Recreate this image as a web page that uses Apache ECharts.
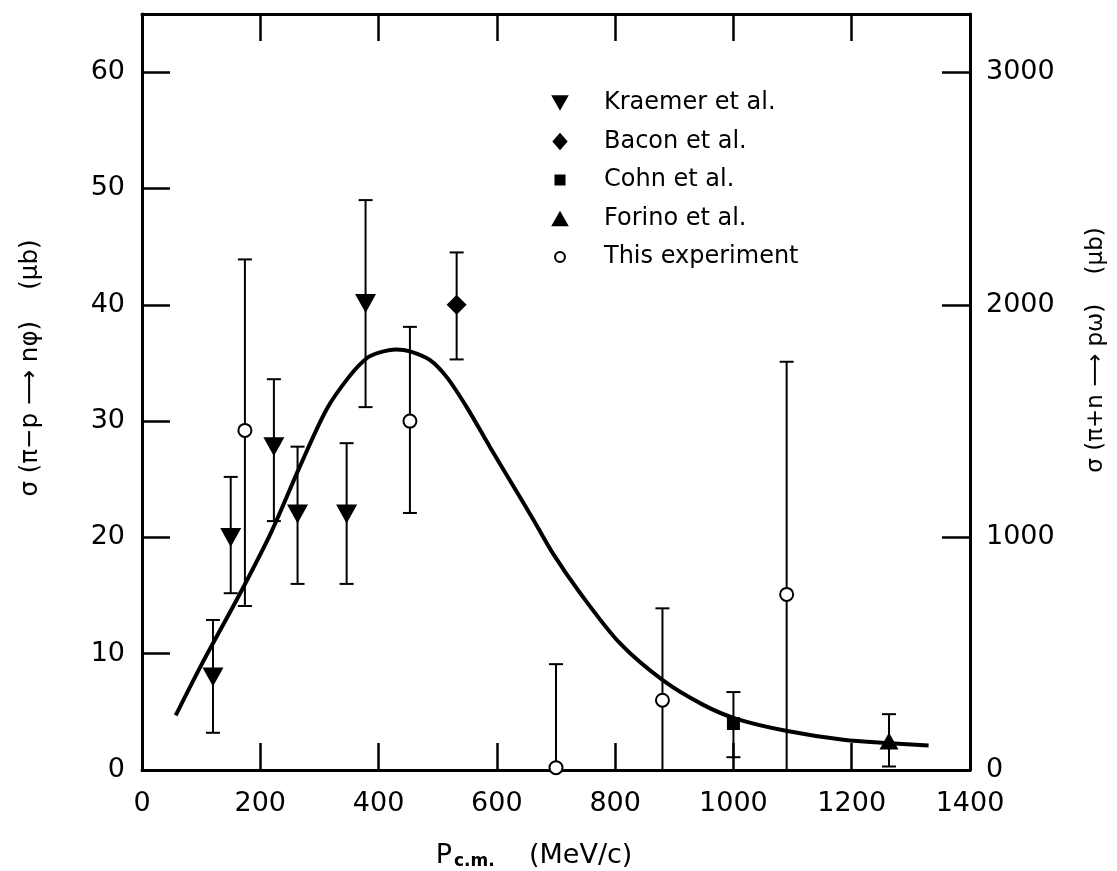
<!DOCTYPE html>
<html lang="en">
<head>
    <meta charset="utf-8">
    <title>sigma vs Pcm</title>
    <script src="https://cdn.jsdelivr.net/npm/echarts@6/dist/echarts.min.js"></script>
    <style>
        html, body { margin: 0; padding: 0; background: #fff; }
        #container { width: 1117px; height: 871px; }
    </style>
</head>
<body>
<div id="container"></div>
<script>
    // Kraemer et al. (down triangles)
    var kraemerX  = [120, 150, 223, 263, 346, 378];
    var kraemerY  = [8, 20, 27.8, 22, 22, 40.1];
    var kraemerLo = [3.2, 15.2, 21.4, 16, 16, 31.2];
    var kraemerHi = [12.9, 25.2, 33.6, 27.8, 28.1, 49];
    // Bacon et al.
    var baconX = [532], baconY = [40], baconLo = [35.3], baconHi = [44.5];
    // Cohn et al.
    var cohnX = [1000], cohnY = [4], cohnLo = [1.1], cohnHi = [6.7];
    // Forino et al.
    var forinoX = [1263], forinoY = [2.5], forinoLo = [0.3], forinoHi = [4.8];
    // This experiment (open circles)
    var thisX  = [174, 453, 700, 880, 1090];
    var thisY  = [29.2, 30, 0.2, 6, 15.1];
    var thisLo = [14.1, 22.1, 0, 0, 0];
    var thisHi = [43.9, 38.1, 9.1, 13.9, 35.1];
    // fitted curve
    var curveX = [57, 100, 166, 219, 267, 312, 350, 380, 402, 430, 453, 487, 515, 549, 588, 628, 662, 695, 741, 808, 881, 949, 1005, 1091, 1186, 1265, 1330];
    var curveY = [4.7, 9, 15.2, 20.5, 26.1, 31, 33.8, 35.4, 35.9, 36.15, 36.0, 35.25, 33.8, 31.2, 27.8, 24.4, 21.5, 18.6, 15.2, 10.9, 7.7, 5.6, 4.4, 3.35, 2.6, 2.3, 2.1];

    var xTicks = [0, 200, 400, 600, 800, 1000, 1200, 1400];
    var leftTicks = [0, 10, 20, 30, 40, 50, 60];
    var rightTicks = [0, 1000, 2000, 3000];

    function pairs(xs, ys) {
        var out = [];
        for (var i = 0; i < xs.length; i++) out.push([xs[i], ys[i]]);
        return out;
    }
    function bars(xs, lo, hi) {
        var out = [];
        for (var i = 0; i < xs.length; i++) out.push([xs[i], lo[i], hi[i]]);
        return out;
    }
    var errData = [].concat(
        bars(kraemerX, kraemerLo, kraemerHi),
        bars(baconX, baconLo, baconHi),
        bars(cohnX, cohnLo, cohnHi),
        bars(forinoX, forinoLo, forinoHi),
        bars(thisX, thisLo, thisHi)
    );

    // legend icons: the leading moves pad every glyph into the same 20x20 box
    var PAD = 'M0,0M20,20';
    var iconDown = 'path://' + PAD + 'M2,3L18,3L10,17Z';
    var iconDiamond = 'path://' + PAD + 'M10,2L17,10L10,18L3,10Z';
    var iconSquare = 'path://' + PAD + 'M5,5L15,5L15,15L5,15Z';
    var iconUp = 'path://' + PAD + 'M2,17L18,17L10,3Z';
    var iconCircle = 'path://' + PAD + 'M14.5,10A4.5,4.5,0,1,1,5.5,10A4.5,4.5,0,1,1,14.5,10Z';

    var FONT = 'DejaVu Sans';
    var dom = document.getElementById('container');
    var myChart = echarts.init(dom);

    var option = {
        backgroundColor: '#fff',
        animation: false,
        textStyle: { fontFamily: FONT, color: '#000' },
        grid: { left: 142, right: 147, top: 14, bottom: 101, outerBoundsMode: 'none', containLabel: false },
        legend: {
            data: [
                { name: 'Kraemer et al.', icon: iconDown },
                { name: 'Bacon et al.', icon: iconDiamond },
                { name: 'Cohn et al.', icon: iconSquare },
                { name: 'Forino et al.', icon: iconUp },
                { name: 'This experiment', icon: iconCircle }
            ],
            orient: 'vertical',
            left: 543,
            top: 86,
            itemWidth: 22,
            itemHeight: 22,
            itemGap: 14.5,
            textStyle: { fontFamily: FONT, fontSize: 24, color: '#000', padding: [0, 0, 0, 28] }
        },
        xAxis: [
            {
                type: 'value', position: 'bottom', min: 0, max: 1400, interval: 200,
                name: '{p|P}{s|c.m.}    (MeV/c)',
                nameLocation: 'middle', nameGap: 71,
                nameTextStyle: {
                    fontFamily: FONT, fontSize: 27, color: '#000', padding: [0, 44, 0, 0],
                    rich: {
                        p: { fontFamily: FONT, fontSize: 27, color: '#000' },
                        s: { fontFamily: FONT, fontSize: 17, fontWeight: 'bold', color: '#000', padding: [12, 0, 0, 2] }
                    }
                },
                axisLine: { onZero: false, lineStyle: { color: '#000', width: 3 } },
                axisTick: { inside: true, length: 27, lineStyle: { color: '#000', width: 2.5 } },
                axisLabel: {
                    fontFamily: FONT, fontSize: 27, color: '#000', margin: 20,
                    formatter: function (v) { return String(v); }
                },
                splitLine: { show: false }
            },
            {
                type: 'value', position: 'top', min: 0, max: 1400, interval: 200,
                axisLine: { onZero: false, lineStyle: { color: '#000', width: 3 } },
                axisTick: { inside: true, length: 27, lineStyle: { color: '#000', width: 2.5 } },
                axisLabel: { show: false },
                splitLine: { show: false }
            }
        ],
        yAxis: [
            {
                type: 'value', position: 'left', min: 0, max: 65, interval: 10,
                name: 'σ (π−p ⟶ nφ)    (μb)',
                nameLocation: 'middle', nameRotate: 90, nameGap: 99,
                nameTextStyle: { fontFamily: FONT, fontSize: 24.5, color: '#000', padding: [0, 0, 0, 48] },
                axisLine: { onZero: false, lineStyle: { color: '#000', width: 3 } },
                axisTick: { inside: true, length: 28, lineStyle: { color: '#000', width: 2.5 } },
                axisLabel: {
                    fontFamily: FONT, fontSize: 27, color: '#000', margin: 17,
                    formatter: function (v) { return leftTicks.indexOf(v) >= 0 ? String(v) : ''; }
                },
                splitLine: { show: false }
            },
            {
                type: 'value', position: 'right', min: 0, max: 3250, interval: 1000,
                name: 'σ (π+n ⟶ pω)    (μb)',
                nameLocation: 'middle', nameRotate: 90, nameGap: 115,
                nameTextStyle: { fontFamily: FONT, fontSize: 23, color: '#000', padding: [0, 0, 0, 84] },
                axisLine: { onZero: false, lineStyle: { color: '#000', width: 3 } },
                axisTick: { inside: true, length: 28, lineStyle: { color: '#000', width: 2.5 } },
                axisLabel: {
                    fontFamily: FONT, fontSize: 27, color: '#000', margin: 16,
                    formatter: function (v) { return rightTicks.indexOf(v) >= 0 ? String(v) : ''; }
                },
                splitLine: { show: false }
            }
        ],
        series: [
            {
                name: 'fit', type: 'line', smooth: 0.3, symbol: 'none', z: 2,
                data: pairs(curveX, curveY),
                lineStyle: { color: '#000', width: 4 }
            },
            {
                name: 'errors', type: 'custom', z: 3,
                data: errData,
                renderItem: function (params, api) {
                    var x = api.value(0);
                    var lo = api.coord([x, api.value(1)]);
                    var hi = api.coord([x, api.value(2)]);
                    var w = 7;
                    var style = { stroke: '#000', lineWidth: 2 };
                    return {
                        type: 'group',
                        children: [
                            { type: 'line', shape: { x1: lo[0], y1: lo[1], x2: hi[0], y2: hi[1] }, style: style },
                            { type: 'line', shape: { x1: hi[0] - w, y1: hi[1], x2: hi[0] + w, y2: hi[1] }, style: style },
                            { type: 'line', shape: { x1: lo[0] - w, y1: lo[1], x2: lo[0] + w, y2: lo[1] }, style: style }
                        ]
                    };
                }
            },
            {
                name: 'Kraemer et al.', type: 'scatter', z: 5,
                symbol: 'triangle', symbolRotate: 180, symbolSize: [21, 19],
                itemStyle: { color: '#000', opacity: 1 },
                data: pairs(kraemerX, kraemerY)
            },
            {
                name: 'Bacon et al.', type: 'scatter', z: 5,
                symbol: 'diamond', symbolSize: [20, 20],
                itemStyle: { color: '#000', opacity: 1 },
                data: pairs(baconX, baconY)
            },
            {
                name: 'Cohn et al.', type: 'scatter', z: 5,
                symbol: 'rect', symbolSize: 13,
                itemStyle: { color: '#000', opacity: 1 },
                data: pairs(cohnX, cohnY)
            },
            {
                name: 'Forino et al.', type: 'scatter', z: 5,
                symbol: 'triangle', symbolSize: [19, 17],
                itemStyle: { color: '#000', opacity: 1 },
                data: pairs(forinoX, forinoY)
            },
            {
                name: 'This experiment', type: 'scatter', z: 5,
                symbol: 'circle', symbolSize: 13,
                itemStyle: { color: '#fff', borderColor: '#000', borderWidth: 2, opacity: 1 },
                data: pairs(thisX, thisY)
            }
        ]
    };
    if (option && typeof option === "object") {
        myChart.setOption(option, true);
    }
</script>
</body>
</html>
